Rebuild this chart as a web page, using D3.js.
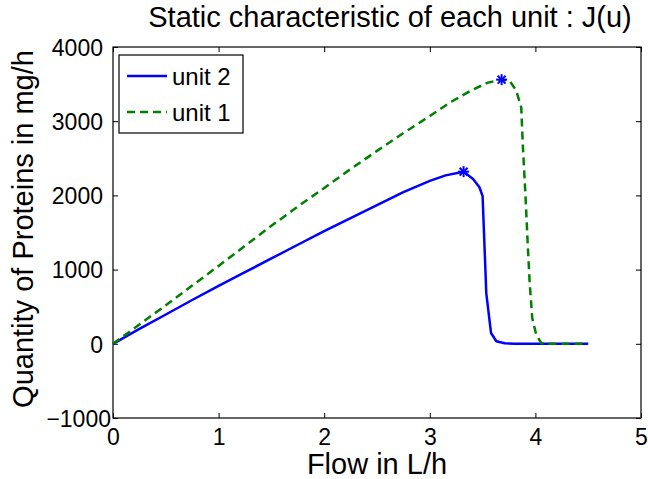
<!DOCTYPE html>
<html>
<head>
<meta charset="utf-8">
<script src="https://cdn.jsdelivr.net/npm/d3@7"></script>
<style>
  html, body { margin: 0; padding: 0; background: #fff; }
  svg { display: block; }
  text { font-family: "Liberation Sans", Arial, Helvetica, sans-serif; fill: #000; }
</style>
</head>
<body>
<svg id="chart" width="648" height="479"></svg>
<script>
// ---- data ----
const unit2X = [0, 0.25, 0.5, 0.75, 1, 1.25, 1.5, 1.75, 2, 2.25, 2.5, 2.75, 3, 3.15, 3.32, 3.41, 3.47, 3.50, 3.535, 3.58, 3.63, 3.71, 3.8, 4.0, 4.25, 4.5];
const unit2Y = [0, 200, 395, 590, 780, 965, 1150, 1335, 1520, 1695, 1870, 2045, 2195, 2270, 2320, 2220, 2110, 1990, 680, 145, 35, 8, 0, 0, 0, 0];
const unit1X = [0, 0.25, 0.5, 0.75, 1, 1.25, 1.5, 1.75, 2, 2.25, 2.5, 2.75, 3, 3.2, 3.4, 3.55, 3.68, 3.756, 3.819, 3.866, 3.882, 3.907, 3.929, 3.945, 3.97, 4.008, 4.056, 4.1, 4.25, 4.5];
const unit1Y = [0, 260, 520, 785, 1050, 1320, 1590, 1850, 2100, 2355, 2600, 2840, 3070, 3260, 3420, 3520, 3560, 3545, 3410, 3185, 2644, 1969, 1293, 842, 347, 122, 10, 0, 0, 0];
const peakX = [3.32, 3.68];
const peakY = [2320, 3560];
const xTicks = [0, 1, 2, 3, 4, 5];
const yTicks = [-1000, 0, 1000, 2000, 3000, 4000];
const seriesNames = ["unit 2", "unit 1"];
const titleText = "Static characteristic of each unit : J(u)";
const xLabel = "Flow in L/h";
const yLabel = "Quantity of Proteins in mg/h";

// ---- layout ----
const L = 113, R = 641, T = 47, B = 418;
const svg = d3.select("#chart");
const x = d3.scaleLinear().domain([0, 5]).range([L, R]);
const y = d3.scaleLinear().domain([-1000, 4000]).range([B, T]);

// axes box
svg.append("rect").attr("x", L).attr("y", T).attr("width", R - L).attr("height", B - T)
  .attr("fill", "none").attr("stroke", "#000").attr("stroke-width", 1.2);

// tick marks (inside, all four sides) + labels via d3 axes
const tickLen = 5;
const bottomAxis = d3.axisBottom(x).tickValues(xTicks).tickSize(-tickLen).tickPadding(tickLen + 6).tickFormat(d3.format("d"));
const topAxis = d3.axisTop(x).tickValues(xTicks).tickSize(-tickLen).tickFormat("");
const leftAxis = d3.axisLeft(y).tickValues(yTicks).tickSize(-tickLen).tickPadding(tickLen + 5).tickFormat(d => d < 0 ? "\u2212" + Math.abs(d) : String(d));
const rightAxis = d3.axisRight(y).tickValues(yTicks).tickSize(-tickLen).tickFormat("");

function styleAxis(g) {
  g.select(".domain").remove();
  g.selectAll(".tick line").attr("stroke", "#000").attr("stroke-width", 1);
  g.selectAll(".tick text").style("font-size", "23px").attr("fill", "#000");
}
svg.append("g").attr("transform", `translate(0,${B})`).call(bottomAxis).call(styleAxis);
svg.append("g").attr("transform", `translate(0,${T})`).call(topAxis).call(styleAxis);
svg.append("g").attr("transform", `translate(${L},0)`).call(leftAxis).call(styleAxis)
  .selectAll(".tick text").attr("dy", "0.36em").attr("dx", d => d < 0 ? 8 : 0);
svg.append("g").attr("transform", `translate(${R},0)`).call(rightAxis).call(styleAxis);

// lines
const line = d3.line().x(d => x(d[0])).y(d => y(d[1]));
const u2 = unit2X.map((v, i) => [v, unit2Y[i]]);
const u1 = unit1X.map((v, i) => [v, unit1Y[i]]);

svg.append("path").datum(u2).attr("d", line).attr("fill", "none")
  .attr("stroke", "#0000ff").attr("stroke-width", 2.5).attr("stroke-linejoin", "round");
svg.append("path").datum(u1).attr("d", line).attr("fill", "none")
  .attr("stroke", "#008000").attr("stroke-width", 2.5).attr("stroke-dasharray", "8,5");

// star markers
const star = svg.append("g");
peakX.forEach((px, i) => {
  const cx = x(px), cy = y(peakY[i]), r = 5.5;
  const g = star.append("g").attr("stroke", "#0000ff").attr("stroke-width", 2);
  g.append("line").attr("x1", cx - r).attr("x2", cx + r).attr("y1", cy).attr("y2", cy);
  g.append("line").attr("x1", cx).attr("x2", cx).attr("y1", cy - r).attr("y2", cy + r);
  const d = r * 0.72;
  g.append("line").attr("x1", cx - d).attr("x2", cx + d).attr("y1", cy - d).attr("y2", cy + d);
  g.append("line").attr("x1", cx - d).attr("x2", cx + d).attr("y1", cy + d).attr("y2", cy - d);
});

// legend
const lg = svg.append("g");
lg.append("rect").attr("x", 119).attr("y", 55).attr("width", 124).attr("height", 78)
  .attr("fill", "#fff").attr("stroke", "#000").attr("stroke-width", 1.2);
const legendStyles = [
  { color: "#0000ff", dash: null },
  { color: "#008000", dash: "8,5" }
];
seriesNames.forEach((name, i) => {
  const ly = 76 + i * 36;
  lg.append("line").attr("x1", 127).attr("x2", 167).attr("y1", ly).attr("y2", ly)
    .attr("stroke", legendStyles[i].color).attr("stroke-width", 2.5)
    .attr("stroke-dasharray", legendStyles[i].dash);
  lg.append("text").attr("x", 172).attr("y", ly + 9).style("font-size", "24px").text(name);
});

// title and labels
svg.append("text").attr("x", 390).attr("y", 27).attr("text-anchor", "middle")
  .style("font-size", "29px").text(titleText);
svg.append("text").attr("x", 377).attr("y", 474).attr("text-anchor", "middle")
  .style("font-size", "29px").text(xLabel);
svg.append("text").attr("transform", "translate(33,229) rotate(-90)").attr("text-anchor", "middle")
  .style("font-size", "29px").text(yLabel);
</script>
</body>
</html>
